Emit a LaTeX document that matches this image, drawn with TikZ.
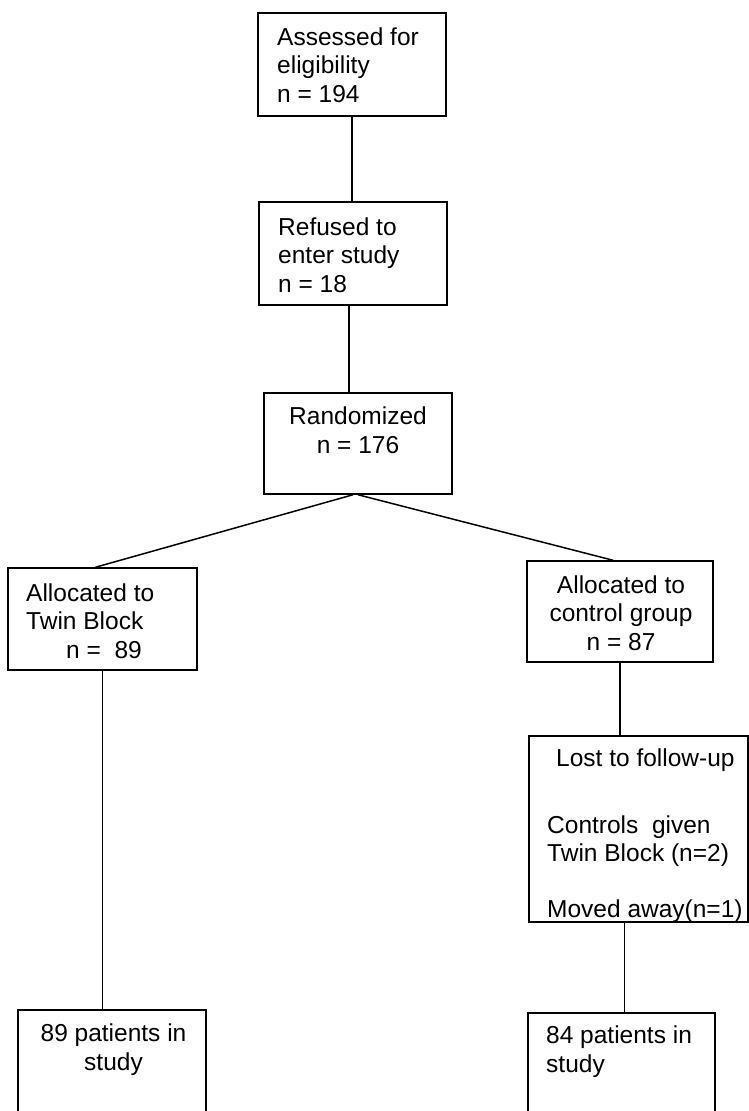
\documentclass[tikz,border=0pt]{standalone}
\usepackage{fontspec}
\setmainfont{Liberation Sans}
\usetikzlibrary{calc,positioning}

\tikzset{
  box/.style={draw, black, line width=1.5pt, inner sep=0pt},
  txt/.style={inner sep=0pt, font=\fontsize{24.5}{28.3}\selectfont},
  link/.style={black, line width=1.5pt}
}

\begin{document}
\begin{tikzpicture}[x=1pt,y=-1pt]
\clip (0,0) rectangle (749,1111);
% boxes
\node[box, minimum width=188, minimum height=103] (assess) at (352,64.5) {};
\node[box, minimum width=188, minimum height=103] (refuse) at (353,253.5) {};
\node[box, minimum width=188, minimum height=101] (random) at (358,443.5) {};
\node[box, minimum width=189, minimum height=102] (twin) at (102.5,619) {};
\node[box, minimum width=186, minimum height=101] (control) at (620,611.5) {};
\node[box, minimum width=219, minimum height=186] (lost) at (638.5,829) {};
\node[box, minimum width=188, minimum height=140] (pat89) at (112,1080) {};
\node[box, minimum width=187, minimum height=140] (pat84) at (621.5,1083) {};
% texts (base = last line)
\node[txt, align=left, anchor=base west] (assesstxt) at (277,102) {Assessed for\\eligibility\\n = 194};
\node[txt, align=left, anchor=base west] (refusetxt) at (278,292) {Refused to\\enter study\\n = 18};
\node[txt, align=center, anchor=base] (randomtxt) at (358,453) {Randomized\\n = 176};
\node[txt, align=left, anchor=base west] (twintxt) at (26,658) {Allocated to\\Twin Block\\\hspace*{40pt}n =\ \ 89};
\node[txt, align=center, anchor=base] (controltxt) at (621,650) {Allocated to\\control group\\n = 87};
\node[txt, align=left, anchor=base west] (losttxt) at (547,917) {\hspace*{9pt}Lost to follow-up\\[39pt]Controls\ \ given\\Twin Block (n=2)\\[27pt]Moved away(n=1)};
\node[txt, align=center, anchor=base] (pat89txt) at (113.5,1070) {89 patients in\\study};
\node[txt, align=left, anchor=base west] (pat84txt) at (546,1072) {84 patients in\\study};
% connectors
\draw[link] (assess.south) -- (assess.south |- refuse.north);
\draw[link] ([xshift=-4]refuse.south) -- ([xshift=-4]refuse.south |- random.north);
\draw[link] ([xshift=-5]random.south) -- ([xshift=-7]twin.north);
\draw[link] (random.south) -- ([xshift=-7]control.north);
\draw[link] (twin.south) -- (twin.south |- pat89.north);
\draw[link] (control.south) -- (control.south |- lost.north);
\draw[link] ([xshift=3]pat84.north |- lost.south) -- ([xshift=3]pat84.north);
\end{tikzpicture}
\end{document}
